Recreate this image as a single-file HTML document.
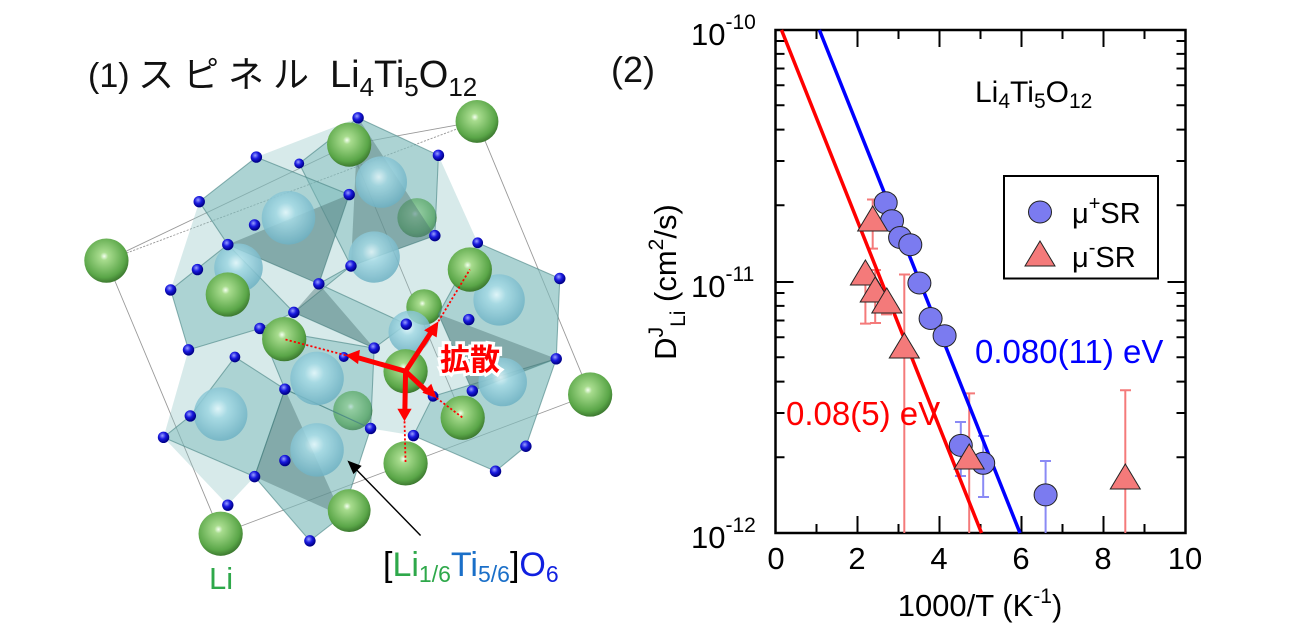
<!DOCTYPE html>
<html><head><meta charset="utf-8"><style>
html,body{margin:0;padding:0;background:#fff;}
svg{display:block;font-family:"Liberation Sans","Noto Sans CJK JP",sans-serif;}
</style></head><body>
<svg width="1300" height="628" viewBox="0 0 1300 628" xmlns="http://www.w3.org/2000/svg">
<defs>
<radialGradient id="gb" cx="0.45" cy="0.4" r="0.6"><stop offset="0" stop-color="#f4fff0"/><stop offset="0.15" stop-color="#a8dc8e"/><stop offset="0.8" stop-color="#5aa648"/><stop offset="1" stop-color="#3d7a30"/></radialGradient>
<radialGradient id="cb" cx="0.45" cy="0.4" r="0.6"><stop offset="0" stop-color="#e8fbff"/><stop offset="0.3" stop-color="#a6dbe6"/><stop offset="1" stop-color="#6fb2c4"/></radialGradient>
<radialGradient id="ob" cx="0.4" cy="0.35" r="0.6"><stop offset="0" stop-color="#9aa0ff"/><stop offset="0.5" stop-color="#1a1ae0"/><stop offset="1" stop-color="#00008a"/></radialGradient>
</defs>

<!-- LEFT STRUCTURE (in zoom coords) -->
<g transform="translate(60,50) scale(0.357)">
 <g stroke="#555" stroke-width="2.5" fill="none" opacity="0.6">
  <line x1="130" y1="590" x2="450" y2="1355"/>
  <line x1="1168" y1="200" x2="1485" y2="965"/>
  <line x1="130" y1="590" x2="810" y2="265"/>
  <line x1="810" y1="265" x2="1168" y2="200"/>
  <line x1="450" y1="1355" x2="1485" y2="965"/>
  <line x1="130" y1="590" x2="1168" y2="200" stroke-dasharray="6 4"/>
  <line x1="810" y1="265" x2="1128" y2="1030"/>
 </g>
 <polygon points="390,425 550,300 835,190 1060,295 1170,540 1400,640 1390,865 1305,1110 1220,1180 990,1080 870,1060 790,1305 700,1375 545,1195 470,1275 290,1085 360,840 310,672" fill="rgba(140,195,195,0.35)"/>
 <g fill="url(#gb)">
  <circle cx="1000" cy="470" r="55"/><circle cx="820" cy="1010" r="55"/><circle cx="1020" cy="720" r="50"/>
 </g>
 <g fill="rgba(120,185,185,0.45)" stroke="rgba(70,130,130,0.6)" stroke-width="3">
  <polygon points="835,190 1060,295 1050,520 815,605 670,318"/>
  <polygon points="550,300 810,405 725,655 470,545 390,425"/>
  <polygon points="310,672 470,545 655,735 560,780 360,840"/>
  <polygon points="725,655 970,768 880,835 655,735 815,605"/>
  <polygon points="1170,540 1400,640 1390,865 1155,955 1060,740"/>
  <polygon points="365,1025 490,860 630,950 545,1195 290,1085"/>
  <polygon points="630,950 870,1060 790,1305 700,1375 545,1195"/>
  <polygon points="1045,970 1390,865 1305,1110 1220,1180 990,1080"/>
  <polygon points="560,780 880,835 870,1060 630,950"/>
 </g>
 <g fill="rgba(70,110,110,0.4)">
  <polygon points="810,405 725,655 470,545"/>
  <polygon points="655,735 880,835 725,655"/>
  <polygon points="630,950 545,1195 790,1305"/>
  <polygon points="1155,955 1060,740 1390,865"/>
  <polygon points="1050,520 815,605 835,190"/>
 </g>
 <g fill="url(#cb)" opacity="0.85">
  <circle cx="640" cy="470" r="75"/><circle cx="900" cy="370" r="72"/><circle cx="880" cy="580" r="72"/>
  <circle cx="500" cy="610" r="68"/><circle cx="1230" cy="700" r="72"/><circle cx="720" cy="920" r="75"/>
  <circle cx="450" cy="1020" r="75"/><circle cx="720" cy="1120" r="75"/><circle cx="980" cy="790" r="60"/>
  <circle cx="1240" cy="930" r="68"/>
 </g>
 <g fill="url(#ob)">
  <circle cx="835" cy="190" r="16"/><circle cx="550" cy="300" r="16"/><circle cx="670" cy="318" r="14"/><circle cx="1060" cy="295" r="16"/>
  <circle cx="810" cy="405" r="16"/><circle cx="390" cy="425" r="16"/><circle cx="545" cy="490" r="16"/><circle cx="470" cy="545" r="16"/>
  <circle cx="1050" cy="520" r="16"/><circle cx="1170" cy="540" r="15"/><circle cx="385" cy="615" r="16"/><circle cx="310" cy="672" r="16"/>
  <circle cx="725" cy="655" r="16"/><circle cx="815" cy="605" r="16"/><circle cx="1400" cy="640" r="16"/><circle cx="655" cy="735" r="16"/>
  <circle cx="970" cy="768" r="16"/><circle cx="1145" cy="755" r="16"/><circle cx="560" cy="780" r="16"/><circle cx="360" cy="840" r="16"/>
  <circle cx="490" cy="860" r="15"/><circle cx="880" cy="835" r="16"/><circle cx="795" cy="860" r="14"/><circle cx="1390" cy="865" r="16"/>
  <circle cx="630" cy="950" r="16"/><circle cx="1155" cy="955" r="16"/><circle cx="1045" cy="970" r="15"/><circle cx="365" cy="1025" r="16"/>
  <circle cx="290" cy="1085" r="16"/><circle cx="870" cy="1060" r="16"/><circle cx="990" cy="1080" r="16"/><circle cx="630" cy="1150" r="16"/>
  <circle cx="545" cy="1195" r="16"/><circle cx="1305" cy="1110" r="16"/><circle cx="1220" cy="1180" r="16"/><circle cx="470" cy="1275" r="16"/>
  <circle cx="790" cy="1305" r="16"/><circle cx="700" cy="1375" r="16"/>
 </g>
 <g fill="url(#gb)">
  <circle cx="810" cy="265" r="62"/><circle cx="1168" cy="200" r="60"/><circle cx="130" cy="590" r="62"/>
  <circle cx="470" cy="685" r="62"/><circle cx="1148" cy="615" r="62"/><circle cx="628" cy="810" r="62"/>
  <circle cx="968" cy="900" r="62"/><circle cx="1128" cy="1030" r="62"/><circle cx="1485" cy="965" r="62"/>
  <circle cx="968" cy="1158" r="62"/><circle cx="450" cy="1355" r="62"/><circle cx="810" cy="1290" r="60"/>
 </g>
 <g stroke="#f00" stroke-width="5" stroke-dasharray="6 6" fill="none">
  <line x1="1060" y1="760" x2="1148" y2="615"/><line x1="800" y1="855" x2="628" y2="810"/>
  <line x1="1055" y1="975" x2="1128" y2="1030"/><line x1="965" y1="1040" x2="968" y2="1158"/>
 </g>
 <g stroke="#f00" stroke-width="14" fill="#f00">
  <line x1="968" y1="900" x2="1040" y2="790"/><line x1="968" y1="900" x2="835" y2="862"/>
  <line x1="968" y1="900" x2="1030" y2="958"/><line x1="968" y1="900" x2="966" y2="1010"/>
  <polygon points="1060,760 1020,785 1055,805" stroke="none"/>
  <polygon points="800,855 840,840 835,880" stroke="none"/>
  <polygon points="1055,975 1015,960 1040,935" stroke="none"/>
  <polygon points="965,1040 945,1005 985,1005" stroke="none"/>
 </g>
 <line x1="1010" y1="1360" x2="825" y2="1170" stroke="#000" stroke-width="4"/>
 <polygon points="805,1150 845,1165 822,1188" fill="#000"/>
</g>
<text x="88" y="87" font-size="34" fill="#111">(1)</text>
<text x="138" y="87" font-size="36" fill="#111" letter-spacing="9">スピネル</text>
<text x="330" y="87" font-size="38" fill="#111">Li<tspan font-size="26" dy="9">4</tspan><tspan dy="-9">Ti</tspan><tspan font-size="26" dy="9">5</tspan><tspan dy="-9">O</tspan><tspan font-size="26" dy="9">12</tspan></text>
<text x="440" y="370" font-size="30" fill="#f00" stroke="#fff" stroke-width="6" paint-order="stroke" font-weight="bold">拡散</text>
<text x="209" y="589" font-size="31" fill="#2ea84a">Li</text>
<text x="383" y="576" font-size="34"><tspan fill="#000">[</tspan><tspan fill="#2ea84a">Li</tspan><tspan fill="#2ea84a" font-size="23" dy="6">1/6</tspan><tspan fill="#1a6fc8" dy="-6">Ti</tspan><tspan fill="#1a6fc8" font-size="23" dy="6">5/6</tspan><tspan fill="#000" dy="-6">]</tspan><tspan fill="#1020e0">O</tspan><tspan fill="#1020e0" font-size="23" dy="6">6</tspan></text>

<!-- RIGHT CHART -->
<text x="611" y="82" font-size="36" fill="#111">(2)</text>
<g stroke="#000" stroke-width="2.5" fill="none">
 <rect x="775.5" y="30" width="410" height="503"/>
</g>
<g stroke="#000" stroke-width="2">
 <path d="M816.5 533v-9M857.5 533v-17M898.5 533v-9M939.5 533v-17M980.5 533v-9M1021.5 533v-17M1062.5 533v-9M1103.5 533v-17M1144.5 533v-9
 M816.5 30v9M857.5 30v17M898.5 30v9M939.5 30v17M980.5 30v9M1021.5 30v17M1062.5 30v9M1103.5 30v17M1144.5 30v9"/>
 <path d="M775.5 282h18M1185.5 282h-18
 M775.5 457.3h9M775.5 413h9M775.5 381.6h9M775.5 357.2h9M775.5 337.3h9M775.5 320.5h9M775.5 305.9h9M775.5 293h9
 M775.5 205.3h9M775.5 161h9M775.5 129.6h9M775.5 105.2h9M775.5 85.3h9M775.5 68.5h9M775.5 53.9h9M775.5 41h9
 M1185.5 457.3h-9M1185.5 413h-9M1185.5 381.6h-9M1185.5 357.2h-9M1185.5 337.3h-9M1185.5 320.5h-9M1185.5 305.9h-9M1185.5 293h-9
 M1185.5 205.3h-9M1185.5 161h-9M1185.5 129.6h-9M1185.5 105.2h-9M1185.5 85.3h-9M1185.5 68.5h-9M1185.5 53.9h-9M1185.5 41h-9"/>
</g>
<!-- error bars -->
<g stroke="#f47a7a" stroke-width="2">
 <path d="M872.7 199.5V248.6M867 199.5h11M867 248.6h11"/>
 <path d="M865.4 266.5V323.6M860 323.6h11M875.2 270V323M870 270h11M870 323h11"/>
 <path d="M886.8 288.5V314.4M881 314.4h11"/>
 <path d="M904.3 274.5V533M899 274.5h11"/>
 <path d="M969.2 393.4V533M964 393.4h11"/>
 <path d="M1125.3 390.2V533M1120 390.2h11"/>
</g>
<g stroke="#8a8af5" stroke-width="2">
 <path d="M960.8 422V476M955 422h11M955 476h11"/>
 <path d="M983.2 436V497M978 436h11M978 497h11"/>
 <path d="M1045.6 461V533M1040 461h11"/>
</g>
<line x1="781.5" y1="30" x2="981.5" y2="533" stroke="#f00" stroke-width="3.5"/>
<line x1="819.4" y1="30" x2="1020" y2="533" stroke="#00f" stroke-width="3.5"/>
<g fill="#7b7bf0" stroke="#222" stroke-width="1">
 <ellipse cx="885.7" cy="202.7" rx="11.5" ry="11"/><ellipse cx="892" cy="220.7" rx="11.5" ry="11"/>
 <ellipse cx="900.1" cy="237.5" rx="11.5" ry="11"/><ellipse cx="910.3" cy="244.7" rx="11.5" ry="11"/>
 <ellipse cx="919.4" cy="283" rx="11.5" ry="11"/><ellipse cx="930.6" cy="318.5" rx="11.5" ry="11"/>
 <ellipse cx="944.6" cy="335.7" rx="11.5" ry="11"/><ellipse cx="960.8" cy="445.4" rx="11.5" ry="11"/>
 <ellipse cx="983.2" cy="463.3" rx="11.5" ry="11"/><ellipse cx="1045.6" cy="494.9" rx="11.5" ry="11"/>
</g>
<g fill="#f47a7a" stroke="#222" stroke-width="1">
 <path d="M872.7 206l15 25h-30z"/><path d="M865.4 260l15 25h-30z"/>
 <path d="M875.2 277l15 25h-30z"/><path d="M886.8 288l15 25h-30z"/>
 <path d="M904.3 333l15 25h-30z"/><path d="M969.2 444l15 25h-30z"/>
 <path d="M1125.3 464l15 25h-30z"/>
</g>
<!-- legend -->
<rect x="1004" y="176" width="154" height="102.5" fill="#fff" stroke="#000" stroke-width="2"/>
<ellipse cx="1040" cy="212" rx="11.5" ry="11" fill="#7b7bf0" stroke="#222"/>
<path d="M1040 241l15 25h-30z" fill="#f47a7a" stroke="#222"/>
<text x="1072" y="223" font-size="29">μ<tspan font-size="20" dy="-13">+</tspan><tspan dy="13">SR</tspan></text>
<text x="1072" y="267" font-size="29">μ<tspan font-size="20" dy="-13">-</tspan><tspan dy="13">SR</tspan></text>
<text x="975" y="102" font-size="30">Li<tspan font-size="21" dy="6">4</tspan><tspan dy="-6">Ti</tspan><tspan font-size="21" dy="6">5</tspan><tspan dy="-6">O</tspan><tspan font-size="21" dy="6">12</tspan></text>
<text x="975" y="363" font-size="33" fill="#00f">0.080(11) eV</text>
<text x="786" y="425" font-size="33" fill="#f00">0.08(5) eV</text>
<!-- y tick labels -->
<g font-size="31">
 <text x="691" y="45">10<tspan font-size="21" dy="-16">-10</tspan></text>
 <text x="691" y="297">10<tspan font-size="21" dy="-16">-11</tspan></text>
 <text x="691" y="548">10<tspan font-size="21" dy="-16">-12</tspan></text>
</g>
<g font-size="31" text-anchor="middle">
 <text x="776" y="569">0</text><text x="857" y="569">2</text><text x="939" y="569">4</text>
 <text x="1021" y="569">6</text><text x="1103" y="569">8</text><text x="1185" y="569">10</text>
</g>
<text x="980" y="616" font-size="31" text-anchor="middle">1000/T (K<tspan font-size="21" dy="-13">-1</tspan><tspan dy="13">)</tspan></text>
<text transform="translate(676,282) rotate(-90)" font-size="31" text-anchor="middle">D<tspan font-size="21" dy="-13">J</tspan><tspan font-size="21" dy="22">Li</tspan><tspan dy="-9"> (cm</tspan><tspan font-size="21" dy="-13">2</tspan><tspan dy="13">/s)</tspan></text>
</svg>
</body></html>
